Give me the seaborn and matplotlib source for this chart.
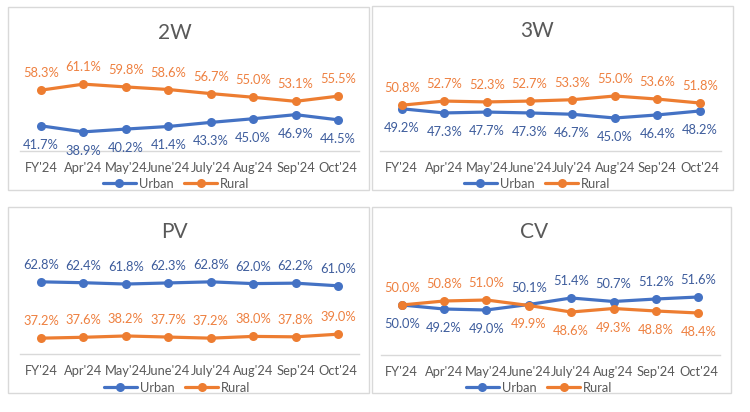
import matplotlib
matplotlib.use("Agg")
import matplotlib.pyplot as plt
import seaborn as sns
import pandas as pd
from matplotlib.lines import Line2D
from matplotlib.patches import Rectangle

sns.set_theme(style="white")
plt.rcParams['font.family'] = ['Lato', 'DejaVu Sans']

months = ["FY'24", "Apr'24", "May'24", "June'24", "July'24", "Aug'24", "Sep'24", "Oct'24"]

urban_2w = [41.7, 38.9, 40.2, 41.4, 43.3, 45.0, 46.9, 44.5]
rural_2w = [58.3, 61.1, 59.8, 58.6, 56.7, 55.0, 53.1, 55.5]
urban_3w = [49.2, 47.3, 47.7, 47.3, 46.7, 45.0, 46.4, 48.2]
rural_3w = [50.8, 52.7, 52.3, 52.7, 53.3, 55.0, 53.6, 51.8]
urban_pv = [62.8, 62.4, 61.8, 62.3, 62.8, 62.0, 62.2, 61.0]
rural_pv = [37.2, 37.6, 38.2, 37.7, 37.2, 38.0, 37.8, 39.0]
urban_cv = [50.0, 49.2, 49.0, 50.1, 51.4, 50.7, 51.2, 51.6]
rural_cv = [50.0, 50.8, 51.0, 49.9, 48.6, 49.3, 48.8, 48.4]

titles = ["2W", "3W", "PV", "CV"]

W, H = 750, 412
fig = plt.figure(figsize=(7.5, 4.12), dpi=100)
fig.patch.set_facecolor('white')

BLUE = '#4472C4'
ORANGE = '#ED7D31'
BLUE_LBL = '#3D5C9C'
ORANGE_LBL = '#EE8040'
GRAY = '#595959'
BORDER = '#D9D9D9'
FS = 9.3

def fx(x):
    return x / W

def fy(y):
    return 1 - y / H

# panel borders (pixel boxes)
borders = [(8, 7, 369, 190), (372, 6, 733, 190), (8, 207, 369, 393), (372, 207, 731, 393)]
for (x0, y0, x1, y1) in borders:
    fig.patches.append(Rectangle((fx(x0), fy(y1)), fx(x1) - fx(x0), fy(y0) - fy(y1),
                                 transform=fig.transFigure, fill=False,
                                 edgecolor=BORDER, linewidth=1.0))

# axes layout: left, right, top, bottom in px; ylim
layouts = [
    (19.8, 359.2, 65, 151, (30, 70)),
    (380.4, 721.3, 63, 151, (30, 70)),
    (19.8, 359.2, 266, 354, (30, 70)),
    (380.5, 719.5, 255, 355, (40, 60)),
]
title_pos = [(175, 33), (537, 31), (174, 232), (534, 232)]
legend_pos = [(176, 184), (537, 184), (177, 388), (539, 388)]

# label directions: +1 above, -1 below
urban_dirs = [
    [-1] * 8,
    [-1] * 8,
    [1] * 8,
    [-1, -1, -1, 1, 1, 1, 1, 1],
]
rural_dirs = [
    [1] * 8,
    [1] * 8,
    [1] * 8,
    [1, 1, 1, -1, -1, -1, -1, -1],
]

series = [(urban_2w, rural_2w), (urban_3w, rural_3w), (urban_pv, rural_pv), (urban_cv, rural_cv)]

for i, ((u, r), (l, rt, t, b, yl)) in enumerate(zip(series, layouts)):
    ax = fig.add_axes([fx(l), fy(b), fx(rt) - fx(l), fy(t) - fy(b)])
    ax.set_facecolor('none')
    df = pd.DataFrame({
        'month': months * 2,
        'value': u + r,
        'area': ['Urban'] * 8 + ['Rural'] * 8,
    })
    sns.lineplot(data=df, x='month', y='value', hue='area', palette={'Urban': BLUE, 'Rural': ORANGE},
                 marker='o', markersize=6.5, markeredgewidth=0, linewidth=2.3, ax=ax,
                 legend=False, sort=False)
    ax.set_xlim(-0.5, 7.5)
    ax.set_ylim(*yl)
    ax.set_xlabel('')
    ax.set_ylabel('')
    ax.set_yticks([])
    for s in ['top', 'left', 'right']:
        ax.spines[s].set_visible(False)
    ax.spines['bottom'].set_color(BORDER)
    ax.spines['bottom'].set_linewidth(1.0)
    ax.set_xticks(range(8))
    ax.set_xticklabels(months, fontsize=FS, color=GRAY)
    ax.tick_params(axis='x', length=0, pad=8)
    if i == 3:
        ax.set_xticks([k - 0.5 for k in range(9)], minor=True)
        ax.tick_params(axis='x', which='minor', length=5, color=BORDER, width=1.0, direction='out')

    for k in range(8):
        du = urban_dirs[i][k]
        ax.annotate(f"{u[k]:.1f}%", (k, u[k]), xytext=(0, 17 if du > 0 else -19),
                    textcoords='offset pixels', ha='center', va='center',
                    fontsize=FS, color=BLUE_LBL)
        dr = rural_dirs[i][k]
        ax.annotate(f"{r[k]:.1f}%", (k, r[k]), xytext=(0, 17 if dr > 0 else -19),
                    textcoords='offset pixels', ha='center', va='center',
                    fontsize=FS, color=ORANGE_LBL)

    tx, ty = title_pos[i]
    fig.text(fx(tx), fy(ty), titles[i], ha='center', va='center', fontsize=15, color=GRAY)

    handles = [Line2D([], [], color=BLUE, marker='o', markersize=6.5, markeredgewidth=0, linewidth=2.3),
               Line2D([], [], color=ORANGE, marker='o', markersize=6.5, markeredgewidth=0, linewidth=2.3)]
    lx, ly = legend_pos[i]
    fig.legend(handles, ['Urban', 'Rural'], loc='center', bbox_to_anchor=(fx(lx), fy(ly)),
               ncol=2, frameon=False, fontsize=FS, labelcolor=GRAY, handlelength=2.6,
               handletextpad=0.2, columnspacing=0.8, borderpad=0, borderaxespad=0)

fig.savefig('out.png', dpi=100, facecolor='white')
